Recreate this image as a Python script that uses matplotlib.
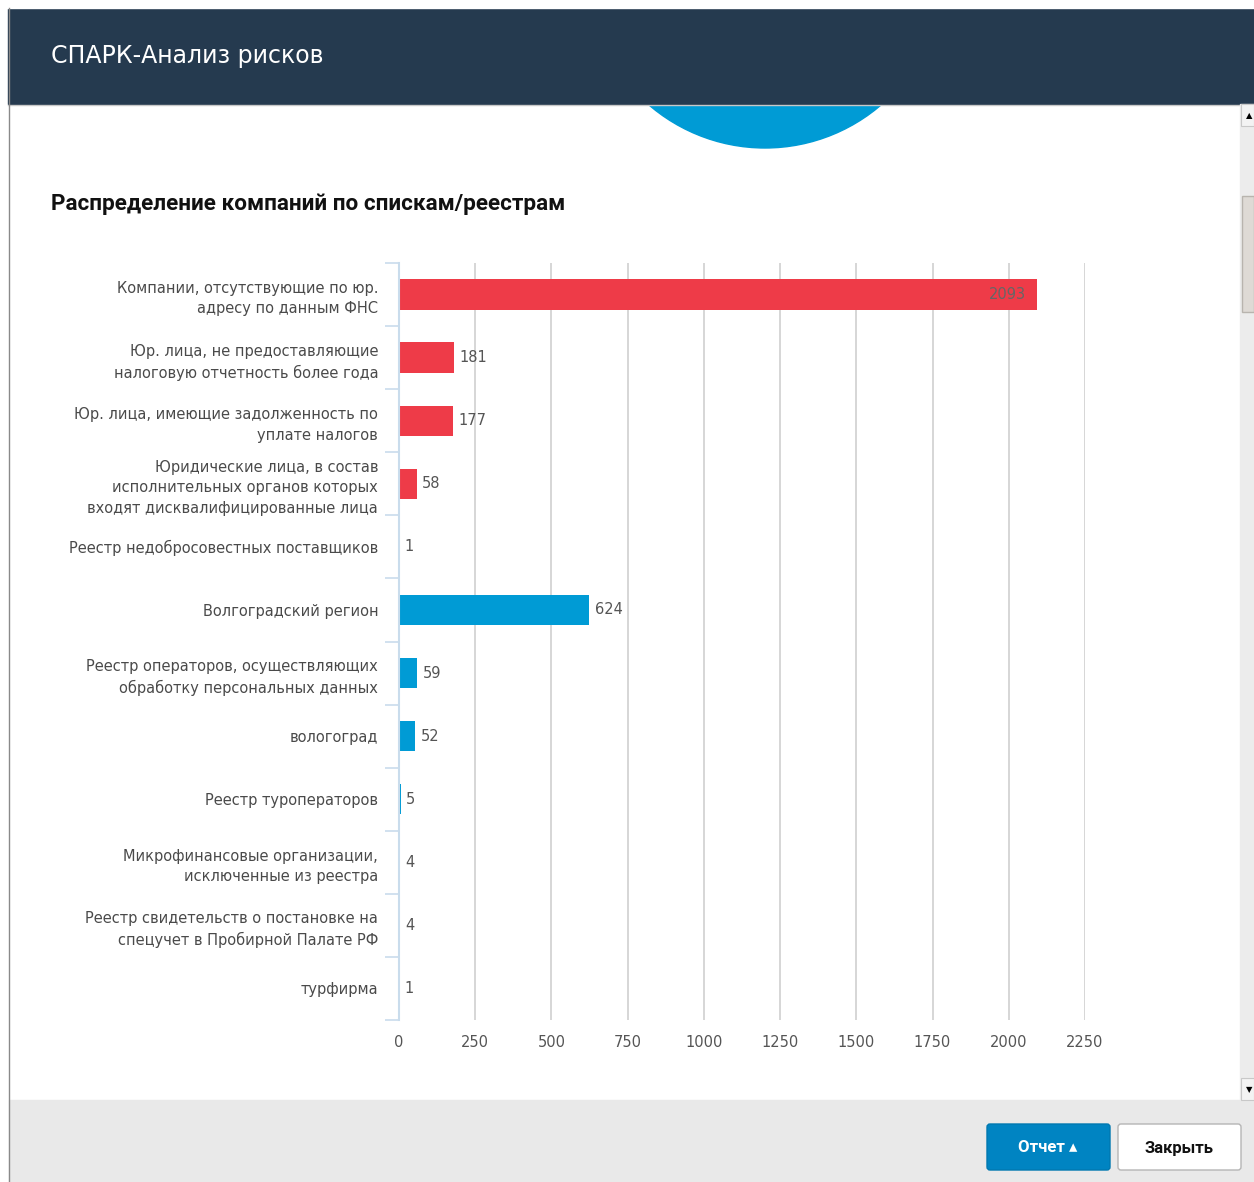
import matplotlib
matplotlib.use("Agg")
import matplotlib.pyplot as plt
import matplotlib.patches as pat

labels = [
    "Компании, отсутствующие по юр.\nадресу по данным ФНС",
    "Юр. лица, не предоставляющие\nналоговую отчетность более года",
    "Юр. лица, имеющие задолженность по\nуплате налогов",
    "Юридические лица, в состав\nисполнительных органов которых\nвходят дисквалифицированные лица",
    "Реестр недобросовестных поставщиков",
    "Волгоградский регион",
    "Реестр операторов, осуществляющих\nобработку персональных данных",
    "вологоград",
    "Реестр туроператоров",
    "Микрофинансовые организации,\nисключенные из реестра",
    "Реестр свидетельств о постановке на\nспецучет в Пробирной Палате РФ",
    "турфирма",
]
values = [2093, 181, 177, 58, 1, 624, 59, 52, 5, 4, 4, 1]
groups = ["red"] * 5 + ["blue"] * 7
xticks = [0, 250, 500, 750, 1000, 1250, 1500, 1750, 2000, 2250]

RED = "#ee3b48"
BLUE = "#009bd5"
HEADER = "#253a4f"
AXIS = "#c9dcec"
W, H = 1254, 1182

fig = plt.figure(figsize=(W / 100, H / 100), dpi=100)

# decoration layer in pixel coordinates
bg = fig.add_axes([0, 0, 1, 1])
bg.set_xlim(0, W)
bg.set_ylim(H, 0)
bg.axis("off")

# partial pie from the previous chart, peeking below the header
bg.add_patch(pat.Circle((765, -30), 178, color=BLUE, zorder=1))
bg.add_patch(pat.Rectangle((8, 8), W - 8, 96, color=HEADER, zorder=2))
bg.add_patch(pat.Rectangle((0, 0), W, 8, color="white", zorder=2))
bg.plot([8, W], [104.5, 104.5], color="#c8c8c8", lw=1, zorder=2)
bg.text(51, 56, "СПАРК-Анализ рисков", color="white", fontsize=17,
        va="center", ha="left", zorder=3)
bg.plot([8.5, 8.5], [8, H], color="#8a8a8a", lw=1, zorder=3)

# footer with buttons
bg.add_patch(pat.Rectangle((9, 1100), W - 9, 82, color="#e9e9e9", zorder=2))
bg.add_patch(pat.FancyBboxPatch((987, 1124), 123, 46, boxstyle="round,pad=0,rounding_size=3",
                                fc="#0084c2", ec="#0078b0", zorder=3))
bg.text(1048, 1148, "Отчет ▴", color="white", fontsize=12, fontweight="bold",
        ha="center", va="center", zorder=4, family=["Roboto", "DejaVu Sans"])
bg.add_patch(pat.FancyBboxPatch((1118, 1124), 123, 46, boxstyle="round,pad=0,rounding_size=3",
                                fc="white", ec="#b5b5b5", zorder=3))
bg.text(1179, 1148, "Закрыть", color="#111111", fontsize=12, fontweight="bold",
        ha="center", va="center", zorder=4, family=["Roboto", "DejaVu Sans"])

# scrollbar
bg.add_patch(pat.Rectangle((1240, 104), 14, 996, color="#ececec", zorder=2))
bg.add_patch(pat.Rectangle((1242, 196), 12, 116, fc="#dedad5", ec="#b8b4ae", lw=1, zorder=3))
bg.add_patch(pat.Rectangle((1241, 104), 13, 22, fc="#f3f3f3", ec="#c8c8c8", lw=0.8, zorder=3))
bg.add_patch(pat.Rectangle((1241, 1078), 13, 22, fc="#f3f3f3", ec="#c8c8c8", lw=0.8, zorder=3))
bg.text(1249, 116, "▲", fontsize=6, ha="center", va="center", zorder=4)
bg.text(1249, 1090, "▼", fontsize=6, ha="center", va="center", zorder=4)

fig.text(51 / W, 1 - 204 / H, "Распределение компаний по спискам/реестрам",
         fontsize=16.2, fontweight="bold", color="#111111", ha="left", va="center",
         family=["Roboto", "DejaVu Sans"])

# chart
ax = fig.add_axes([399 / W, 1 - 1020 / H, 686 / W, 757 / H])
n = len(values)
ypos = list(range(n))
colors = [RED if g == "red" else BLUE for g in groups]
ax.barh(ypos, values, height=0.48, color=colors, zorder=3)
ax.set_ylim(n - 0.5, -0.5)
ax.set_xlim(0, 2250)
ax.set_xticks(xticks)
ax.set_xticklabels([str(t) for t in xticks])
ax.grid(axis="x", color="#cfcfcf", lw=1.2, zorder=0)

for sp in ["top", "right", "bottom"]:
    ax.spines[sp].set_visible(False)
ax.spines["left"].set_color(AXIS)
ax.spines["left"].set_linewidth(1.5)
ax.spines["left"].set_zorder(5)

ax.set_yticks(ypos)
ax.set_yticklabels(labels, fontsize=10.5, color="#4a4a4a", linespacing=1.45)
ax.set_yticks([i - 0.5 for i in range(n + 1)], minor=True)
ax.tick_params(axis="y", which="major", length=0, pad=15)
ax.tick_params(axis="y", which="minor", length=10, color=AXIS, width=1.2)
ax.tick_params(axis="x", length=0, labelsize=10.5, labelcolor="#555555", pad=11)

for i, v in enumerate(values):
    if v > 1500:
        ax.annotate(str(v), (v, i), xytext=(-8, 0), textcoords="offset points",
                    ha="right", va="center", fontsize=10.5, color="#666666", zorder=4)
    else:
        ax.annotate(str(v), (v, i), xytext=(4, 0), textcoords="offset points",
                    ha="left", va="center", fontsize=10.5, color="#555555", zorder=6)

fig.savefig("out.png", dpi=100)
